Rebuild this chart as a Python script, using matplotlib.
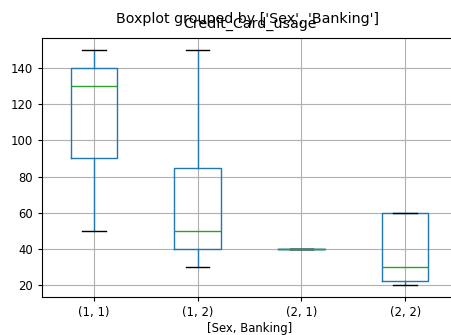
import matplotlib
matplotlib.use("Agg")
import matplotlib.pyplot as plt

groups = ["(1, 1)", "(1, 2)", "(2, 1)", "(2, 2)"]
whislo = [50, 30, 40, 20]
q1 = [90, 40, 40, 22.5]
med = [130, 50, 40, 30]
q3 = [140, 85, 40, 60]
whishi = [150, 150, 40, 60]

stats = [dict(label=g, whislo=a, q1=b, med=c, q3=d, whishi=e, fliers=[])
         for g, a, b, c, d, e in zip(groups, whislo, q1, med, q3, whishi)]

plt.rcParams["font.size"] = 8.4
plt.rcParams["xtick.major.size"] = 3.0
plt.rcParams["ytick.major.size"] = 3.0

fig = plt.figure(figsize=(4.52, 3.35), dpi=100)
ax = fig.add_axes([42/452, 1 - 297/335, 415/452, 259/335])
ax.bxp(stats,
       boxprops=dict(color="#1f77b4"),
       whiskerprops=dict(color="#1f77b4"),
       medianprops=dict(color="#2ca02c"),
       capprops=dict(color="black"))
ax.grid(True)
ax.set_title("Credit_Card_usage", fontsize=10.3, pad=7)
ax.set_xlabel("[Sex, Banking]", labelpad=2)
fig.suptitle("Boxplot grouped by ['Sex', 'Banking']", x=248/452, y=0.963, fontsize=10.3)
fig.savefig("out.png", dpi=100)
